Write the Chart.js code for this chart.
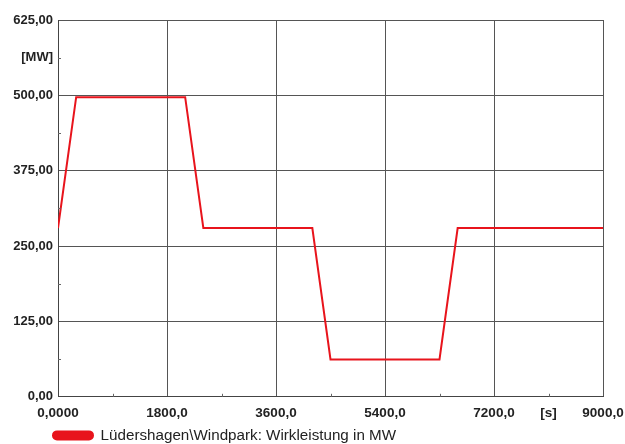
<!DOCTYPE html>
<html>
<head>
<meta charset="utf-8">
<script src="https://cdn.jsdelivr.net/npm/chart.js@4"></script>
<style>
  html, body { margin: 0; padding: 0; background: #fff; }
  #wrap { width: 625px; height: 444px; }
</style>
</head>
<body>
<div id="wrap"><canvas id="chart"></canvas></div>
<script>
// Zeitpunkte [s] und Wirkleistung [MW]
const timeS = [0, 300, 2100, 2400, 4200, 4500, 6300, 6600, 9000];
const powerMW = [280, 497, 497, 280, 280, 62, 62, 280, 280];

const seriesLabel = 'Lüdershagen\\Windpark: Wirkleistung in MW';
const yUnit = '[MW]';
const xUnit = '[s]';

const points = timeS.map((t, i) => ({ x: t, y: powerMW[i] }));

// kleine Hilfsstriche an den Zwischenwerten
const minorTicks = {
    id: 'minorTicks',
    afterLayout(chart) {
        // Legende etwas nach links, wie im Original
        chart.legend.left = 51;
    },
    afterDatasetsDraw(chart) {
        const { ctx, chartArea, scales } = chart;
        ctx.save();
        ctx.strokeStyle = '#666';
        ctx.lineWidth = 1;
        for (let v = 900; v < 9000; v += 1800) {
            const px = Math.round(scales.x.getPixelForValue(v)) + 0.5;
            ctx.beginPath();
            ctx.moveTo(px, chartArea.bottom);
            ctx.lineTo(px, chartArea.bottom - 3);
            ctx.stroke();
        }
        for (let v = 62.5; v < 625; v += 125) {
            const py = Math.round(scales.y.getPixelForValue(v)) + 0.5;
            ctx.beginPath();
            ctx.moveTo(chartArea.left, py);
            ctx.lineTo(chartArea.left + 3, py);
            ctx.stroke();
        }
        ctx.restore();
    }
};

const fmtY = v => v.toFixed(2).replace('.', ',');
const fmtX = v => v === 0 ? '0,0000' : v.toFixed(1).replace('.', ',');

new Chart(document.getElementById('chart'), {
    type: 'line',
    data: {
        datasets: [{
            label: seriesLabel,
            data: points,
            borderColor: '#e8141c',
            backgroundColor: '#e8141c',
            borderWidth: 2,
            pointRadius: 0,
            tension: 0,
            fill: false
        }]
    },
    plugins: [minorTicks],
    options: {
        responsive: true,
        maintainAspectRatio: false,
        animation: false,
        layout: { padding: { top: 20, right: 22, left: 0, bottom: -9 } },
        plugins: {
            tooltip: { enabled: false },
            legend: {
                position: 'bottom',
                align: 'start',
                labels: {
                    boxWidth: 40,
                    boxHeight: 8,
                    useBorderRadius: true,
                    borderRadius: 4,
                    padding: 2,
                    color: '#222',
                    font: { family: 'Liberation Sans', size: 15.2 }
                }
            }
        },
        scales: {
            x: {
                type: 'linear',
                min: 0,
                max: 9000,
                afterFit: s => { s.height = 29; s.paddingLeft = 0; s.paddingRight = 0; },
                ticks: {
                    stepSize: 900,
                    autoSkip: false,
                    maxRotation: 0,
                    padding: 8,
                    color: '#222',
                    font: { family: 'Liberation Sans', size: 13.5, weight: 'bold' },
                    callback: v => v % 1800 === 0 ? fmtX(v) : (v === 8100 ? xUnit : '')
                },
                grid: {
                    drawTicks: false,
                    color: c => c.tick && c.tick.value % 1800 === 0 ? '#555' : 'rgba(0,0,0,0)',
                    lineWidth: 1
                },
                border: { color: '#444', width: 1 }
            },
            y: {
                type: 'linear',
                min: 0,
                max: 625,
                afterFit: s => { s.width = 58; s.paddingTop = 0; s.paddingBottom = 0; },
                ticks: {
                    stepSize: 62.5,
                    autoSkip: false,
                    padding: 5,
                    color: '#222',
                    font: { family: 'Liberation Sans', size: 13, weight: 'bold' },
                    callback: v => v % 125 === 0 ? fmtY(v) : (v === 562.5 ? yUnit : '')
                },
                grid: {
                    drawTicks: false,
                    color: c => c.tick && c.tick.value % 125 === 0 ? '#555' : 'rgba(0,0,0,0)',
                    lineWidth: 1
                },
                border: { color: '#444', width: 1 }
            }
        }
    }
});
</script>
</body>
</html>
